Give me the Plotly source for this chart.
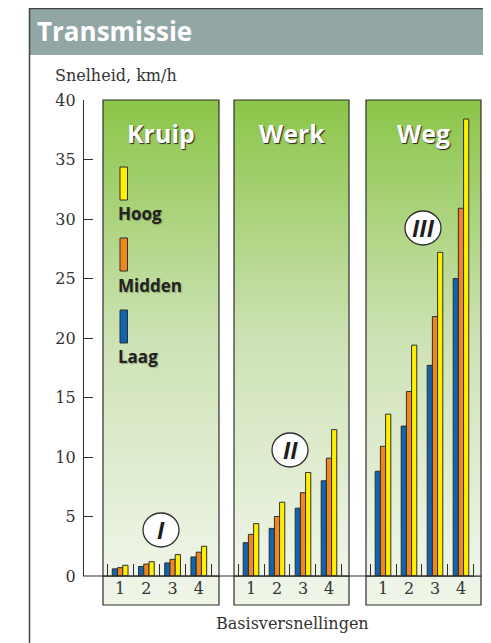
import base64
import plotly.graph_objects as go

# ---------------- data ----------------
gears = [1, 2, 3, 4]
tick_labels = ["1", "2", "3", "4"]
panels = ["Kruip", "Werk", "Weg"]
numerals = ["I", "II", "III"]
series_names = ["Laag", "Midden", "Hoog"]

kruip_laag = [0.6, 0.8, 1.1, 1.6]
kruip_midden = [0.7, 1.0, 1.4, 2.0]
kruip_hoog = [0.9, 1.2, 1.8, 2.5]

werk_laag = [2.8, 4.0, 5.7, 8.0]
werk_midden = [3.5, 5.0, 7.0, 9.9]
werk_hoog = [4.4, 6.2, 8.7, 12.3]

weg_laag = [8.8, 12.6, 17.7, 25.0]
weg_midden = [10.9, 15.5, 21.8, 30.9]
weg_hoog = [13.6, 19.4, 27.2, 38.4]

y_ticks = [0, 5, 10, 15, 20, 25, 30, 35, 40]

# ---------------- style ----------------
OFF = 8  # page body margin in the browser
W, H = 491 - OFF, 643 - OFF
BLUE, ORANGE, YELLOW = "#0f65b0", "#f0861c", "#fff000"
colors = [BLUE, ORANGE, YELLOW]
DARK = "#2e2e2e"
SERIF = "DejaVu Serif"
SANS = "Open Sans"


def xp(px):
    return (px - OFF) / W


def yp(py):
    return 1 - (py - OFF) / H


panel_px = [(103, 219), (234, 349), (366, 481)]
Y0, Y40 = 576, 100

data_sets = [
    [kruip_laag, kruip_midden, kruip_hoog],
    [werk_laag, werk_midden, werk_hoog],
    [weg_laag, weg_midden, weg_hoog],
]

fig = go.Figure()
axis_ids = ["x", "x2", "x3"]
for i, ds in enumerate(data_sets):
    for j, vals in enumerate(ds):
        fig.add_trace(go.Bar(
            x=gears, y=vals, name=series_names[j],
            xaxis=axis_ids[i], yaxis="y",
            marker=dict(color=colors[j], line=dict(color=DARK, width=1)),
            showlegend=False, hoverinfo="x+y+name",
        ))

# gradient svg for panel backgrounds
svg = (
    '<svg xmlns="http://www.w3.org/2000/svg" width="100" height="100" '
    'viewBox="0 0 100 100" preserveAspectRatio="none">'
    '<defs><linearGradient id="g" x1="0" y1="0" x2="0" y2="1">'
    '<stop offset="0" stop-color="#8bc548"/>'
    '<stop offset="0.5" stop-color="#cde2b4"/>'
    '<stop offset="1" stop-color="#eff5e8"/>'
    '</linearGradient></defs>'
    '<rect x="0" y="0" width="100" height="100" fill="url(#g)"/></svg>'
)
svg_uri = "data:image/svg+xml;base64," + base64.b64encode(svg.encode()).decode()

layout = dict(
    width=W, height=H,
    margin=dict(l=0, r=0, t=0, b=0, autoexpand=False),
    paper_bgcolor="white", plot_bgcolor="rgba(0,0,0,0)",
    barmode="group", bargap=0.4, bargroupgap=0,
    showlegend=False,
    yaxis=dict(
        domain=[yp(Y0), yp(Y40)], range=[0, 40],
        anchor="free", position=xp(83),
        tickvals=y_ticks, ticks="inside", ticklen=9, tickwidth=1.2,
        tickcolor=DARK, showline=True, linecolor=DARK, linewidth=1.2,
        showgrid=False, zeroline=False,
        tickfont=dict(family=SERIF, size=16, color="#333"),
        ticklabelstandoff=4,
    ),
)

for i, (a, b) in enumerate(panel_px):
    key = "xaxis" if i == 0 else f"xaxis{i + 1}"
    layout[key] = dict(
        domain=[xp(a), xp(b)], range=[0.346, 4.77], anchor="y",
        tickvals=gears, ticktext=tick_labels, ticks="",
        showgrid=False, zeroline=False, showline=False,
        tickfont=dict(family=SERIF, size=16, color="#333"),
        ticklabelstandoff=1,
        minor=dict(tick0=0.5, dtick=1, ticks="inside", ticklen=12,
                   tickwidth=1.2, tickcolor=DARK, showgrid=False),
    )

fig.update_layout(**layout)

shapes = []
images = []
annotations = []


def note(text, x, y, font, xanchor="center", xref="paper"):
    annotations.append(dict(text=text, xref=xref, yref="paper", x=x, y=y,
                            xanchor=xanchor, yanchor="middle", showarrow=False,
                            font=font))


# frame and title bar
shapes.append(dict(type="rect", xref="paper", yref="paper",
                   x0=xp(29.5), x1=1.0, y0=yp(55), y1=yp(8),
                   fillcolor="#92a6a6", line=dict(width=0), layer="below"))
shapes.append(dict(type="line", xref="paper", yref="paper",
                   x0=xp(29.5), x1=1.0, y0=yp(8.5), y1=yp(8.5),
                   line=dict(color="#444", width=1.5)))
shapes.append(dict(type="line", xref="paper", yref="paper",
                   x0=xp(29.5), x1=xp(29.5), y0=0, y1=yp(8),
                   line=dict(color="#444", width=1.5)))

for i, (a, b) in enumerate(panel_px):
    xr = "x" if i == 0 else f"x{i + 1}"
    images.append(dict(source=svg_uri, xref=f"{xr} domain", yref="y domain",
                       x=0, y=1, sizex=1, sizey=1, xanchor="left", yanchor="top",
                       sizing="stretch", layer="below"))
    shapes.append(dict(type="rect", xref=f"{xr} domain", yref="y domain",
                       x0=0, x1=1, y0=0, y1=1, line=dict(color=DARK, width=1.2)))
    # label box under the panel
    shapes.append(dict(type="rect", xref=f"{xr} domain", yref="paper",
                       x0=0, x1=1, y0=yp(605), y1=yp(Y0),
                       fillcolor="#eef4e6", line=dict(color=DARK, width=1.2),
                       layer="below"))
    note(f"<b>{panels[i]}</b>", 0.5, yp(133),
         dict(family=SANS, size=25, color="white", shadow="1px 1px 1px #222"),
         xref=f"{xr} domain")

# baseline
shapes.append(dict(type="line", xref="paper", yref="paper",
                   x0=xp(83), x1=xp(474), y0=yp(Y0), y1=yp(Y0),
                   line=dict(color=DARK, width=1.2)))

# roman numeral circles
circles = [(161, 530), (290, 450), (423, 228)]
for (cx, cy), txt in zip(circles, numerals):
    shapes.append(dict(type="circle", xref="paper", yref="paper",
                       x0=xp(cx - 18), x1=xp(cx + 18), y0=yp(cy + 17), y1=yp(cy - 17),
                       fillcolor="white", line=dict(color=DARK, width=1.3)))
    note(f"<b><i>{txt}</i></b>", xp(cx), yp(cy),
         dict(family=SANS, size=23, color="#1e1e1e"))

# legend inside Kruip panel
leg = [("Hoog", YELLOW, 167, 213), ("Midden", ORANGE, 238, 285), ("Laag", BLUE, 310, 356)]
for name, col, top, ty in leg:
    shapes.append(dict(type="rect", xref="paper", yref="paper",
                       x0=xp(120), x1=xp(127.5), y0=yp(top + 33), y1=yp(top),
                       fillcolor=col, line=dict(color=DARK, width=1)))
    note(f"<b>{name}</b>", xp(116), yp(ty),
         dict(family=SANS, size=17, color="#222", shadow="1px 1px 1px rgba(0,0,0,0.25)"),
         xanchor="left")

# texts
note("<b>Transmissie</b>", xp(35), yp(31), dict(family=SANS, size=26, color="white"),
     xanchor="left")
note("Snelheid, km/h", xp(53), yp(75), dict(family=SERIF, size=16, color="#333"),
     xanchor="left")
note("Basisversnellingen", xp(292), yp(623), dict(family=SERIF, size=16, color="#333"))

fig.update_layout(shapes=shapes, images=images, annotations=annotations)
fig.write_html("out.html")
